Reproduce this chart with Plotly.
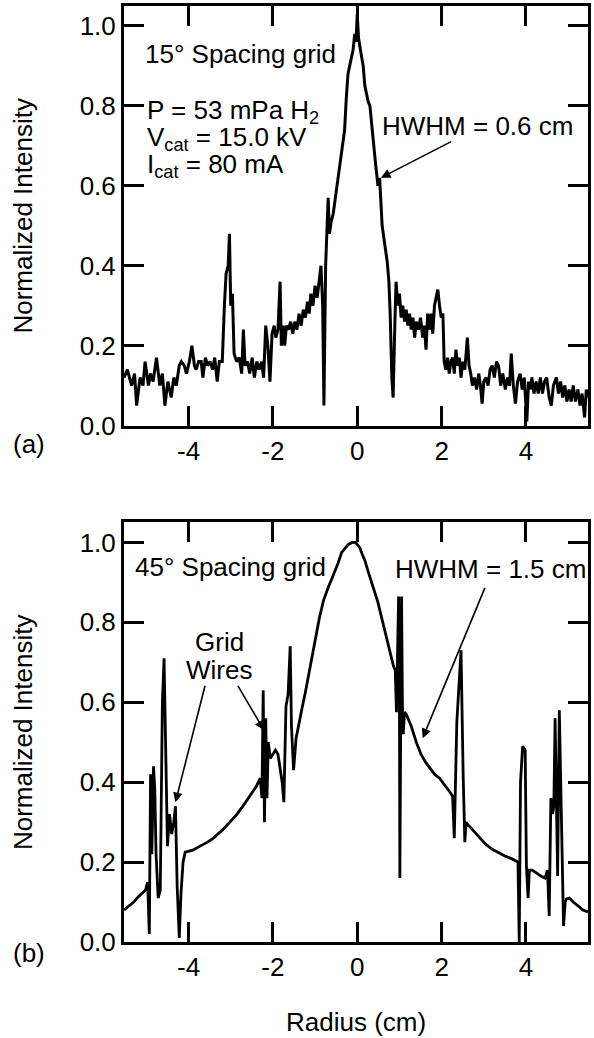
import plotly.graph_objects as go

# ---------------- data ----------------
top_radius = [-5.53, -5.45, -5.35, -5.28, -5.23, -5.15, -5.08, -5.03, -4.95, -4.9, -4.84, -4.76,
              -4.68, -4.62, -4.56, -4.49, -4.41, -4.35, -4.29, -4.22, -4.17, -4.1, -4.05, -3.98,
              -3.92, -3.86, -3.82, -3.76, -3.7, -3.66, -3.6, -3.55, -3.49, -3.43, -3.38, -3.32,
              -3.27, -3.2, -3.15, -3.11, -3.06, -3.03, -3.0, -2.96, -2.92, -2.86, -2.8, -2.74,
              -2.7, -2.66, -2.6, -2.55, -2.49, -2.44, -2.38, -2.33, -2.27, -2.22, -2.17, -2.12,
              -2.07, -2.02, -1.97, -1.93, -1.88, -1.83, -1.8, -1.76, -1.72, -1.68, -1.63, -1.58,
              -1.53, -1.48, -1.43, -1.38, -1.33, -1.28, -1.23, -1.18, -1.14, -1.1, -1.05, -1.0,
              -0.95, -0.9, -0.86, -0.82, -0.79, -0.75, -0.72, -0.69, -0.66, -0.62, -0.57, -0.52,
              -0.47, -0.42, -0.38, -0.34, -0.3, -0.26, -0.22, -0.18, -0.14, -0.1, -0.06, -0.03,
              0.0, 0.03, 0.06, 0.1, 0.14, 0.18, 0.22, 0.26, 0.3, 0.34, 0.38, 0.42,
              0.45, 0.49, 0.53, 0.55, 0.59, 0.63, 0.67, 0.71, 0.75, 0.78, 0.82, 0.85,
              0.89, 0.92, 0.96, 1.0, 1.04, 1.08, 1.12, 1.16, 1.2, 1.24, 1.28, 1.32,
              1.36, 1.4, 1.45, 1.5, 1.55, 1.59, 1.63, 1.67, 1.71, 1.75, 1.79, 1.83,
              1.87, 1.91, 1.95, 1.99, 2.03, 2.06, 2.1, 2.14, 2.18, 2.22, 2.26, 2.3,
              2.34, 2.38, 2.42, 2.46, 2.5, 2.55, 2.61, 2.65, 2.69, 2.73, 2.78, 2.83,
              2.88, 2.92, 2.96, 3.0, 3.05, 3.1, 3.15, 3.2, 3.25, 3.3, 3.35, 3.4,
              3.45, 3.51, 3.56, 3.61, 3.65, 3.7, 3.75, 3.8, 3.86, 3.91, 3.96, 4.02,
              4.06, 4.1, 4.14, 4.19, 4.24, 4.29, 4.34, 4.39, 4.44, 4.49, 4.55, 4.6,
              4.65, 4.72, 4.77, 4.82, 4.87, 4.92, 4.97, 5.02, 5.07, 5.12, 5.17, 5.23,
              5.28, 5.33, 5.39, 5.43, 5.47]
top_intensity = [0.12, 0.14, 0.10, 0.13, 0.05, 0.12, 0.10, 0.16, 0.10, 0.13, 0.11, 0.17,
                 0.10, 0.13, 0.05, 0.11, 0.07, 0.12, 0.10, 0.15, 0.16, 0.15, 0.13, 0.16,
                 0.20, 0.15, 0.14, 0.16, 0.16, 0.12, 0.17, 0.15, 0.16, 0.14, 0.17, 0.11,
                 0.16, 0.16, 0.30, 0.38, 0.40, 0.48, 0.30, 0.33, 0.18, 0.16, 0.17, 0.13,
                 0.24, 0.15, 0.16, 0.13, 0.17, 0.12, 0.16, 0.14, 0.16, 0.12, 0.25, 0.20,
                 0.11, 0.23, 0.25, 0.22, 0.24, 0.36, 0.20, 0.25, 0.20, 0.25, 0.24, 0.26,
                 0.23, 0.26, 0.24, 0.28, 0.25, 0.29, 0.27, 0.31, 0.28, 0.33, 0.30, 0.35,
                 0.32, 0.37, 0.40, 0.30, 0.05, 0.40, 0.47, 0.57, 0.48, 0.51, 0.53, 0.57,
                 0.61, 0.65, 0.69, 0.71, 0.74, 0.82, 0.88, 0.90, 0.92, 0.94, 0.98, 0.96,
                 1.03, 0.97, 0.95, 0.92, 0.90, 0.85, 0.83, 0.81, 0.80, 0.75, 0.71, 0.67,
                 0.64, 0.60, 0.62, 0.57, 0.50, 0.47, 0.44, 0.41, 0.36, 0.28, 0.12, 0.07,
                 0.25, 0.36, 0.30, 0.33, 0.27, 0.30, 0.26, 0.29, 0.25, 0.28, 0.24, 0.27,
                 0.22, 0.26, 0.24, 0.27, 0.22, 0.25, 0.19, 0.28, 0.24, 0.28, 0.23, 0.30,
                 0.32, 0.34, 0.30, 0.27, 0.28, 0.16, 0.14, 0.17, 0.13, 0.16, 0.17, 0.13,
                 0.19, 0.15, 0.17, 0.12, 0.16, 0.14, 0.22, 0.15, 0.13, 0.10, 0.12, 0.09,
                 0.13, 0.10, 0.055, 0.11, 0.12, 0.10, 0.14, 0.15, 0.12, 0.16, 0.15, 0.10,
                 0.13, 0.09, 0.12, 0.10, 0.18, 0.10, 0.055, 0.11, 0.13, 0.09, 0.12, 0.01,
                 0.11, 0.09, 0.12, 0.08, 0.11, 0.08, 0.12, 0.08, 0.11, 0.12, 0.07, 0.05,
                 0.10, 0.12, 0.08, 0.11, 0.07, 0.10, 0.06, 0.09, 0.06, 0.10, 0.06, 0.09,
                 0.05, 0.08, 0.02, 0.09, 0.07]

bottom_radius = [-5.53, -5.4, -5.3, -5.22, -5.12, -5.02, -4.97, -4.93, -4.9, -4.87, -4.83, -4.8,
                 -4.77, -4.72, -4.67, -4.62, -4.58, -4.54, -4.5, -4.45, -4.4, -4.35, -4.31, -4.27,
                 -4.22, -4.18, -4.13, -4.08, -3.9, -3.73, -3.55, -3.41, -3.2, -3.02, -2.85, -2.71,
                 -2.55, -2.39, -2.3, -2.26, -2.23, -2.2, -2.17, -2.14, -2.11, -2.06, -2.0, -1.94,
                 -1.88, -1.83, -1.78, -1.74, -1.69, -1.64, -1.59, -1.56, -1.51, -1.45, -1.38, -1.3,
                 -1.23, -1.12, -1.0, -0.9, -0.8, -0.74, -0.68, -0.6, -0.52, -0.45, -0.37, -0.29,
                 -0.21, -0.12, -0.05, 0.0, 0.06, 0.12, 0.18, 0.25, 0.33, 0.41, 0.49, 0.57,
                 0.65, 0.73, 0.8, 0.86, 0.9, 0.93, 0.96, 0.98, 1.0, 1.01, 1.03, 1.05,
                 1.07, 1.09, 1.12, 1.16, 1.22, 1.28, 1.4, 1.51, 1.62, 1.72, 1.83, 1.95,
                 2.1, 2.2, 2.26, 2.3, 2.36, 2.4, 2.46, 2.51, 2.55, 2.58, 2.61, 2.7,
                 2.81, 2.92, 3.04, 3.2, 3.36, 3.5, 3.67, 3.81, 3.84, 3.87, 3.92, 3.98,
                 4.01, 4.05, 4.08, 4.15, 4.22, 4.35, 4.45, 4.51, 4.55, 4.59, 4.63, 4.66,
                 4.69, 4.73, 4.75, 4.79, 4.82, 4.85, 4.89, 4.93, 4.96, 5.03, 5.12, 5.24,
                 5.35, 5.47]
bottom_intensity = [0.08, 0.09, 0.10, 0.11, 0.12, 0.13, 0.15, 0.02, 0.42, 0.22, 0.44, 0.38,
                    0.22, 0.11, 0.13, 0.60, 0.71, 0.46, 0.24, 0.32, 0.27, 0.30, 0.34, 0.14,
                    0.01, 0.12, 0.20, 0.225, 0.23, 0.24, 0.25, 0.26, 0.28, 0.30, 0.32, 0.34,
                    0.365, 0.39, 0.41, 0.36, 0.63, 0.30, 0.56, 0.36, 0.50, 0.46, 0.47, 0.48,
                    0.47, 0.44, 0.40, 0.35, 0.59, 0.62, 0.74, 0.54, 0.43, 0.51, 0.55, 0.59,
                    0.625, 0.69, 0.76, 0.81, 0.855, 0.875, 0.89, 0.91, 0.93, 0.95, 0.975, 0.985,
                    0.995, 1.0, 1.0, 0.995, 0.987, 0.97, 0.955, 0.93, 0.905, 0.875, 0.85, 0.815,
                    0.78, 0.745, 0.715, 0.69, 0.68, 0.575, 0.75, 0.865, 0.60, 0.16, 0.55, 0.865,
                    0.60, 0.52, 0.575, 0.57, 0.555, 0.54, 0.50, 0.47, 0.45, 0.435, 0.42, 0.41,
                    0.39, 0.375, 0.365, 0.26, 0.55, 0.62, 0.73, 0.42, 0.25, 0.30, 0.295, 0.285,
                    0.272, 0.26, 0.245, 0.232, 0.222, 0.215, 0.208, 0.20, 0.0, 0.40, 0.49, 0.48,
                    0.19, 0.11, 0.18, 0.18, 0.175, 0.165, 0.16, 0.18, 0.065, 0.36, 0.32, 0.34,
                    0.56, 0.30, 0.165, 0.58, 0.40, 0.225, 0.04, 0.10, 0.108, 0.11, 0.10, 0.09,
                    0.08, 0.075]

x_tick_vals = [-4, -2, 0, 2, 4]
x_tick_text = ["-4", "-2", "0", "2", "4"]
y_tick_vals = [0.0, 0.2, 0.4, 0.6, 0.8, 1.0]
y_tick_text = ["0.0", "0.2", "0.4", "0.6", "0.8", "1.0"]

# ---------------- figure ----------------
FONT = "Liberation Sans, Arial, Helvetica, sans-serif"
FS = 26

fig = go.Figure()
fig.add_trace(go.Scatter(x=top_radius, y=top_intensity, mode="lines",
                         line=dict(color="black", width=3), xaxis="x", yaxis="y",
                         showlegend=False, hoverinfo="skip"))
fig.add_trace(go.Scatter(x=bottom_radius, y=bottom_intensity, mode="lines",
                         line=dict(color="black", width=2.8), xaxis="x2", yaxis="y2",
                         showlegend=False, hoverinfo="skip"))

axis_common = dict(showline=True, linecolor="black", linewidth=3, mirror="ticks",
                   ticks="inside", ticklen=20, tickwidth=3, tickcolor="black",
                   showgrid=False, zeroline=False,
                   tickfont=dict(family=FONT, size=FS, color="black"))

xr = [-5.53, 5.47]
yr = [0, 1.05]
fig.update_layout(
    width=594, height=1038,
    margin=dict(l=124, r=3, t=5, b=96),
    paper_bgcolor="white", plot_bgcolor="white",
    font=dict(family=FONT, size=FS, color="black"),
    xaxis=dict(domain=[0, 1], range=xr, anchor="y", tickvals=x_tick_vals,
               ticktext=x_tick_text, **axis_common),
    yaxis=dict(domain=[0.5518, 1], range=yr, anchor="x", tickvals=y_tick_vals,
               ticktext=y_tick_text, **axis_common),
    xaxis2=dict(domain=[0, 1], range=xr, anchor="y2", tickvals=x_tick_vals,
                ticktext=x_tick_text, **axis_common),
    yaxis2=dict(domain=[0, 0.4482], range=yr, anchor="x2", tickvals=y_tick_vals,
                ticktext=y_tick_text, **axis_common),
)

ann = []
def txt(text, x, y, xref, yref, xanchor="left", yanchor="middle", angle=0):
    ann.append(dict(text=text, x=x, y=y, xref=xref, yref=yref, xanchor=xanchor,
                    yanchor=yanchor, showarrow=False, textangle=angle,
                    font=dict(family=FONT, size=FS, color="black")))

def arrow(x, y, ax, ay, xref, yref, head=True):
    ann.append(dict(text="", x=x, y=y, ax=ax, ay=ay, xref=xref, yref=yref,
                    axref=xref, ayref=yref, showarrow=True,
                    arrowhead=2 if head else 0, arrowsize=1.2, arrowwidth=1.6,
                    arrowcolor="black"))

# top panel texts
txt("15° Spacing grid", -5.08, 0.93, "x", "y")
txt("P = 53 mPa H<sub>2</sub>", -5.04, 0.787, "x", "y")
txt("V<sub>cat</sub> = 15.0 kV", -5.04, 0.718, "x", "y")
txt("I<sub>cat</sub> = 80 mA", -5.04, 0.652, "x", "y")
txt("HWHM = 0.6 cm", 0.54, 0.75, "x", "y")
arrow(0.56, 0.62, 2.26, 0.7125, "x", "y")

# bottom panel texts
txt("45° Spacing grid", -5.32, 0.9375, "x2", "y2")
txt("HWHM = 1.5 cm", 0.85, 0.9325, "x2", "y2")
arrow(1.55, 0.51, 3.04, 0.89, "x2", "y2")
txt("Grid", -3.27, 0.75, "x2", "y2", xanchor="center")
txt("Wires", -3.27, 0.68, "x2", "y2", xanchor="center")
arrow(-4.31, 0.35, -3.6, 0.645, "x2", "y2")
arrow(-2.21, 0.53, -2.85, 0.645, "x2", "y2")

# axis titles and panel labels (paper coords)
txt("Normalized Intensity", -0.218, (0.5518 + 1) / 2, "paper", "paper", xanchor="center", angle=-90)
txt("Normalized Intensity", -0.218, 0.4482 / 2, "paper", "paper", xanchor="center", angle=-90)
txt("Radius (cm)", 0.501, -0.0854, "paper", "paper", xanchor="center")
txt("(a)", -0.2056, 0.5325, "paper", "paper", xanchor="center")
txt("(b)", -0.2056, -0.0117, "paper", "paper", xanchor="center")

fig.update_layout(annotations=ann)
fig.write_html("out.html")
